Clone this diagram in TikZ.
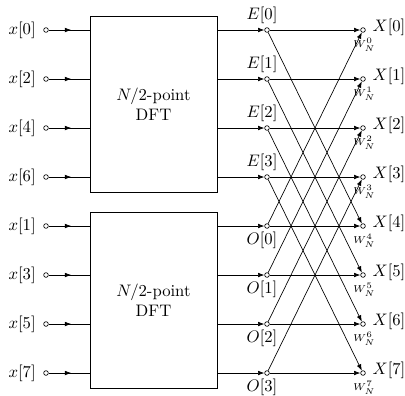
\documentclass[tikz,border=0pt]{standalone}
\usetikzlibrary{arrows.meta,decorations.markings}
\begin{document}
\begin{tikzpicture}[x=0.6pt,y=-0.6pt,
  dot/.style={circle,draw,inner sep=0pt,minimum size=2.8pt,fill=white},
  tip/.style={-{Latex[length=3.8pt,width=2.8pt]}},
  midtip/.style={decoration={markings,mark=at position 0.55 with {\arrow{Latex[length=3.8pt,width=2.8pt]}}},postaction={decorate}},
  dft/.style={draw,minimum width=76.2pt,minimum height=105.6pt,align=center,inner sep=0pt},
  lbl/.style={inner sep=0pt},
  wlbl/.style={inner sep=0pt,font=\fontsize{6.5}{7}\selectfont}]
\useasboundingbox (0,0) rectangle (405,395);
% boxes
\node[dft] (top) at (153.5,104) {$N/2$-point\\DFT};
\node[dft] (bot) at (153.5,300) {$N/2$-point\\DFT};
% inputs
\foreach \y/\n/\lab in {30/0/0,79/1/2,128/2/4,177/3/6,226/4/1,275/5/3,324/6/5,373/7/7}{
  \node[dot] (in\n) at (46,\y) {};
  \node[lbl,anchor=east] (xl\n) at (36,\y) {$x[\lab]$};
}
\foreach \n in {0,1,2,3}{\draw[midtip] (in\n) -- (in\n -| top.west);}
\foreach \n in {4,5,6,7}{\draw[midtip] (in\n) -- (in\n -| bot.west);}
% E and O nodes
\foreach \k/\y in {0/30,1/79,2/128,3/177}{
  \node[dot] (E\k) at (267,\y) {};
}
\foreach \k/\y in {0/226,1/275,2/324,3/373}{
  \node[dot] (O\k) at (267,\y) {};
}
\foreach \k in {0,1,2,3}{
  \node[lbl,anchor=south] (Elab\k) at ([xshift=-3pt,yshift=2pt]E\k.north) {$E[\k]$};
  \node[lbl,anchor=north] (Olab\k) at ([xshift=-3pt,yshift=-2pt]O\k.south) {$O[\k]$};
  \draw[tip] (E\k -| top.east) -- (E\k);
  \draw[tip] (O\k -| bot.east) -- (O\k);
}
% X nodes
\foreach \k/\y in {0/30,1/79,2/128,3/177,4/226,5/275,6/324,7/373}{
  \node[dot] (X\k) at (363,\y) {};
  \node[lbl,anchor=west] (Xl\k) at ([xshift=4pt,yshift=1.4pt]X\k.east) {$X[\k]$};
  \node[wlbl,anchor=north] (Wl\k) at ([xshift=0.8pt,yshift=-3pt]X\k.south) {$W_N^{\k}$};
}
% butterflies
\foreach \k [evaluate=\k as \m using int(\k+4)] in {0,1,2,3}{
  \draw[tip] (E\k) -- (X\k);
  \draw[tip] (E\k) -- (X\m);
  \draw[tip] (O\k) -- (X\k);
  \draw[tip] (O\k) -- (X\m);
}
\end{tikzpicture}
\end{document}
